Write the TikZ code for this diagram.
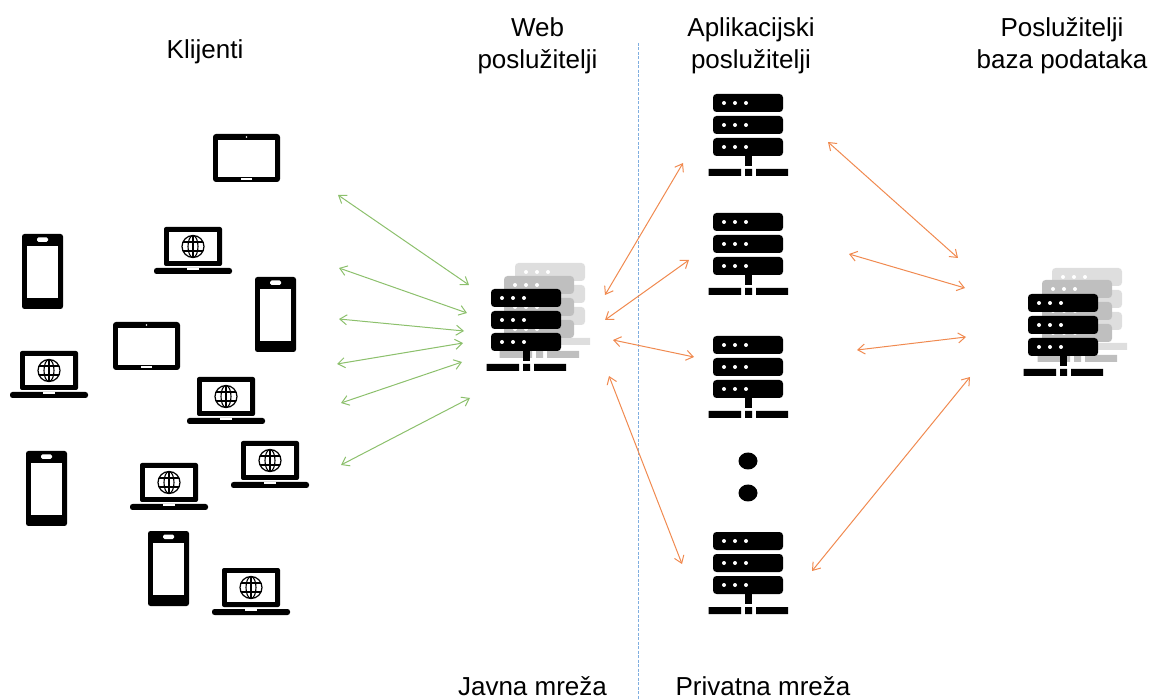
\documentclass[tikz,border=0pt]{standalone}
\usepackage{fontspec}
\setmainfont{Liberation Sans}
\usetikzlibrary{arrows.meta,shapes.geometric}
\definecolor{grn}{HTML}{8CC06C}
\definecolor{org}{HTML}{F08A50}
\definecolor{blu}{HTML}{7FAEE0}
\tikzset{
  x=1pt,y=-1pt,
  lbl/.style={font=\fontsize{26}{32}\selectfont,align=center,inner sep=0pt,text=black},
  garrow/.style={draw=grn,line width=1pt,{Straight Barb[length=7pt,width=10pt]}-{Straight Barb[length=7pt,width=10pt]}},
  oarrow/.style={garrow,draw=org},
  dotmark/.style={ellipse,fill=black,minimum width=19pt,minimum height=17pt,inner sep=0pt},
  pics/srv/.style={code={
    \foreach \yy in {0,22,44}{
      \fill[#1,rounded corners=3.5pt] (0,\yy) rectangle (70,\yy+18);
      \foreach \xx in {11,22,33}{\fill[white] (\xx,\yy+9) circle (2);}
    }
    \fill[#1] (32,62) rectangle (39,72);
    \fill[#1] (-4.5,75) rectangle (28,82) (32,75) rectangle (39,82) (43,75) rectangle (75,82);
  }},
  pics/tablet/.style={code={
    \fill[black,rounded corners=3pt] (0,0) rectangle (67,48);
    \fill[white] (5,6) rectangle (62,43);
    \fill[white] (28,44.5) rectangle (39,46.5);
    \fill[white] (33.5,3) circle (0.8);
  }},
  pics/laptop/.style={code={
    \fill[black,rounded corners=2pt] (10,0) rectangle (68,39);
    \fill[white] (15,5) rectangle (63,34);
    \draw[black,line width=1.2pt] (39,19.5) circle (11);
    \draw[black,line width=1.1pt] (39,19.5) ellipse (5 and 11);
    \draw[black,line width=1.1pt] (39,8.5) -- (39,30.5) (29,15) -- (49,15) (29,24) -- (49,24);
    \fill[black,rounded corners=2.5pt] (0,41) rectangle (78,47);
    \fill[white] (33,41) rectangle (45,43);
  }},
  pics/phone/.style={code={
    \fill[black,rounded corners=2.5pt] (0,0) rectangle (41,75);
    \fill[white] (5,12) rectangle (36,64);
    \fill[white,rounded corners=1.5pt] (15,3.5) rectangle (26,8);
  }},
}
\begin{document}
\begin{tikzpicture}
\useasboundingbox (0,0) rectangle (1152,700);
% labels
\node[lbl] (kl) at (205,52) {Klijenti};
\node[lbl] (web) at (537.5,46) {Web\\poslužitelji};
\node[lbl] (app) at (751,46) {Aplikacijski\\poslužitelji};
\node[lbl] (db) at (1062,46) {Poslužitelji\\baza podataka};
\node[lbl,anchor=base] (jm) at (532.5,695) {Javna mreža};
\node[lbl,anchor=base] (pm) at (763,695) {Privatna mreža};
% divider
\coordinate (dt) at (638.5,43);
\coordinate (db0) at (638.5,700);
\draw[blu,line width=0.9pt,dash pattern=on 3pt off 1.5pt] (dt) -- (db0);
% clients
\pic at (213,134) {tablet};
\pic at (113,322) {tablet};
\pic at (154,227) {laptop};
\pic at (10,351) {laptop};
\pic at (187,377) {laptop};
\pic at (231,441) {laptop};
\pic at (130,463) {laptop};
\pic at (212,568) {laptop};
\pic at (22,234) {phone};
\pic at (255,277) {phone};
\pic at (26,451) {phone};
\pic at (148,531) {phone};
% web cluster
\pic at (515,263) {srv={black!13}};
\pic at (504,276) {srv={black!25}};
\pic at (491,289) {srv=black};
% app servers
\pic at (713,94) {srv=black};
\pic at (713,213) {srv=black};
\pic at (713,336) {srv=black};
\pic at (713,532) {srv=black};
\node[dotmark] (d1) at (748,461) {};
\node[dotmark] (d2) at (748,493) {};
% db cluster
\pic at (1052,268) {srv={black!13}};
\pic at (1042,280) {srv={black!25}};
\pic at (1028,294) {srv=black};
% arrows
\foreach \n/\a/\b/\c/\d/\s in {
 g1/338/195/469/285/garrow, g2/339/268/467/313/garrow, g3/339/319/464/331/garrow,
 g4/337/364/463/343/garrow, g5/341/403/462/362/garrow, g6/341/465/470/398/garrow,
 o1/605/295/683/163/oarrow, o2/605/320/689/260/oarrow, o3/613/340/694/357/oarrow,
 o4/609/376/682/564/oarrow, o5/828/142/958/258/oarrow, o6/849/254/965/288/oarrow,
 o7/857/350/966/337/oarrow, o8/812/571/970/377/oarrow}{
  \coordinate (\n a) at (\a,\b);
  \coordinate (\n b) at (\c,\d);
  \draw[\s] (\n a) -- (\n b);
}
\end{tikzpicture}
\end{document}
